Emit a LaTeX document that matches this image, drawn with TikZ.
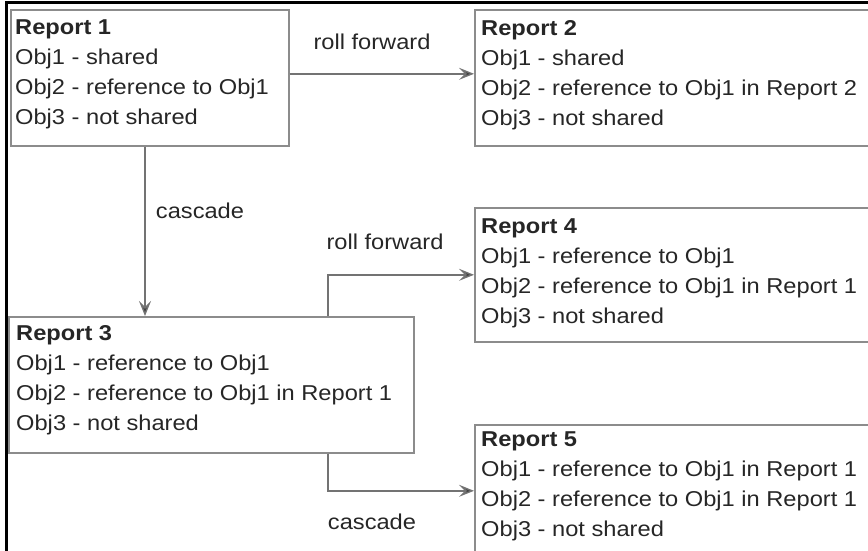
\documentclass[tikz,border=0pt]{standalone}
\usepackage{fontspec}
\setmainfont{Liberation Sans}[FakeStretch=1.1]
\usetikzlibrary{arrows.meta,calc}
\begin{document}
\begin{tikzpicture}[x=1pt,y=-1pt,
  box/.style={draw=black!45, line width=1.6pt, anchor=north west, inner sep=0pt},
  txt/.style={anchor=north west, inner sep=0pt, align=left, text=black!85,
    font=\fontsize{21.5}{30}\selectfont},
  lbl/.style={inner sep=0pt, text=black!85, font=\fontsize{21.5}{30}\selectfont},
  conn/.style={draw=black!55, line width=1.4pt,
    -{Stealth[length=15pt,width=12pt,inset=6pt,fill=black!75]}},
  frame/.style={draw=black, line width=3pt}]
\useasboundingbox (0,0) rectangle (868,550);
\clip (0,0) rectangle (868,550);
\draw[frame] (6,560) -- (6,2) -- (880,2);
% boxes
\node[box, minimum width=278pt, minimum height=136pt] (r1) at (10,9) {};
\node[box, minimum width=410pt, minimum height=136pt] (r2) at (474,9) {};
\node[box, minimum width=405pt, minimum height=136pt] (r3) at (8,316) {};
\node[box, minimum width=410pt, minimum height=134pt] (r4) at (474,207) {};
\node[box, minimum width=410pt, minimum height=136pt] (r5) at (474,424) {};
% texts
\node[txt] (t1) at ($(r1.north west)+(5,11)$) {\textbf{Report 1}\\Obj1 - shared\\Obj2 - reference to Obj1\\Obj3 - not shared};
\node[txt] (t2) at ($(r2.north west)+(7,11)$) {\textbf{Report 2}\\Obj1 - shared\\Obj2 - reference to Obj1 in Report 2\\Obj3 - not shared};
\node[txt] (t3) at ($(r3.north west)+(8,9)$) {\textbf{Report 3}\\Obj1 - reference to Obj1\\Obj2 - reference to Obj1 in Report 1\\Obj3 - not shared};
\node[txt] (t4) at ($(r4.north west)+(7,12)$) {\textbf{Report 4}\\Obj1 - reference to Obj1\\Obj2 - reference to Obj1 in Report 1\\Obj3 - not shared};
\node[txt] (t5) at ($(r5.north west)+(7,7)$) {\textbf{Report 5}\\Obj1 - reference to Obj1 in Report 1\\Obj2 - reference to Obj1 in Report 1\\Obj3 - not shared};
% connector anchors
\coordinate (a1s) at ($(r1.east)+(0,-4)$);
\coordinate (a1e) at ($(r2.west)+(0,-4)$);
\coordinate (a2s) at ($(r1.south west)+(135,0)$);
\coordinate (a3s) at ($(r3.north west)+(320,0)$);
\coordinate (a4s) at ($(r3.south west)+(320,0)$);
% connectors
\draw[conn] (a1s) -- (a1e);
\draw[conn] (a2s) -- (a2s |- r3.north);
\draw[conn] (a3s) |- (r4.west);
\draw[conn] (a4s) |- ($(r5.west)+(0,-2)$);
% labels
\node[lbl] (l1) at (372,42) {roll forward};
\node[lbl] (l2) at (200,211) {cascade};
\node[lbl] (l3) at (385,242) {roll forward};
\node[lbl] (l4) at (372,522) {cascade};
\end{tikzpicture}
\end{document}
